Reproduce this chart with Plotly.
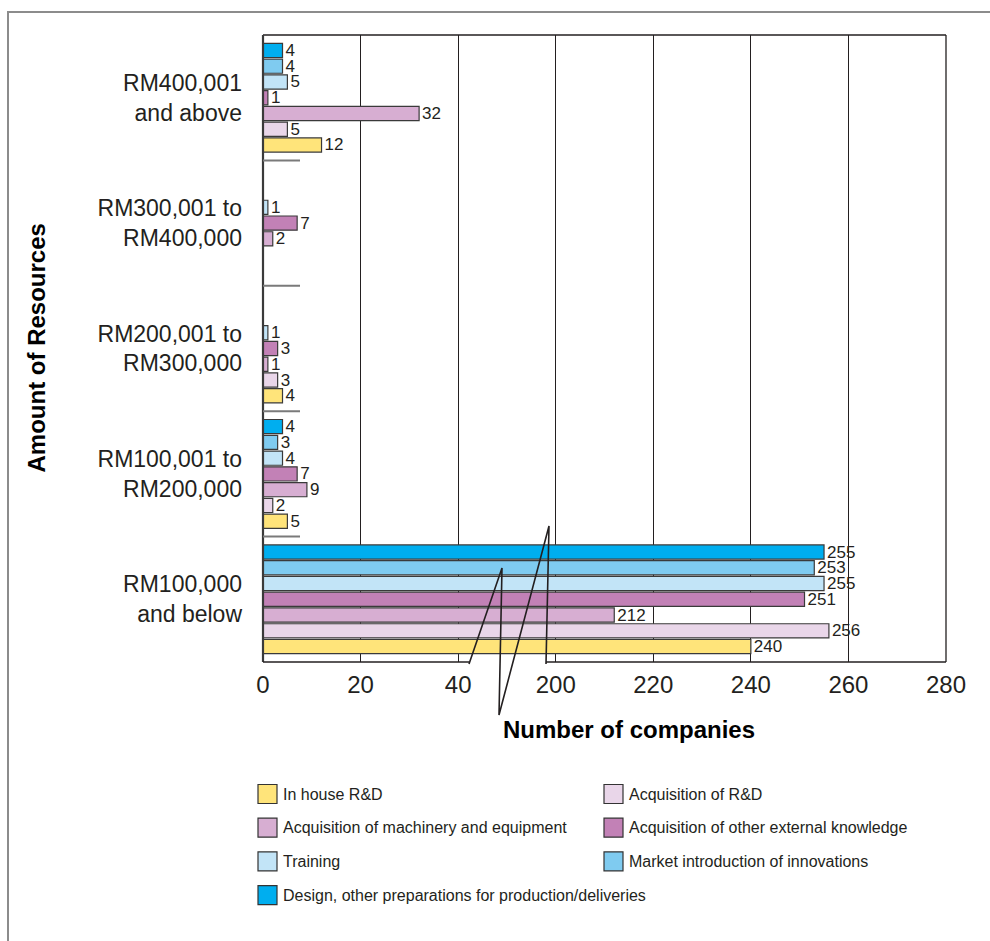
import plotly.graph_objects as go

# Resource bands, listed bottom-to-top as they appear on the axis
categories = [
    "RM100,000<br>and below",
    "RM100,001 to<br>RM200,000",
    "RM200,001 to<br>RM300,000",
    "RM300,001 to<br>RM400,000",
    "RM400,001<br>and above",
]

series_names = [
    "In house R&D",
    "Acquisition of R&D",
    "Acquisition of machinery and equipment",
    "Acquisition of other external knowledge",
    "Training",
    "Market introduction of innovations",
    "Design, other preparations for production/deliveries",
]

# Number of companies per resource band (same order as categories)
in_house_rd = [240, 5, 4, None, 12]
acquisition_rd = [256, 2, 3, None, 5]
machinery_equipment = [212, 9, 1, 2, 32]
other_external_knowledge = [251, 7, 3, 7, 1]
training = [255, 4, 1, 1, 5]
market_introduction = [253, 3, None, None, 4]
design_preparations = [255, 4, None, None, 4]

series_values = [
    in_house_rd,
    acquisition_rd,
    machinery_equipment,
    other_external_knowledge,
    training,
    market_introduction,
    design_preparations,
]

series_colors = [
    "#FFE47A",
    "#E9D6E9",
    "#D7AED2",
    "#C281B6",
    "#C2E4F7",
    "#7FCBF0",
    "#00AEEF",
]

tick_labels = [0, 20, 40, 200, 220, 240, 260, 280]

# Broken value axis: everything from 200 upward is shifted down by GAP
GAP = 140
AXIS_MAX = 280 - GAP


def axis_pos(v):
    if v is None:
        return None
    return v if v < 100 else v - GAP


FONT = "Liberation Sans, Arial, Helvetica, sans-serif"
INK = "#231F20"

# Plot-area placement in pixels
W, H = 990, 941
L, R, T, B = 263, 946, 35, 662


def px_x(px):
    return (px - L) / (R - L)


def px_y(py):
    return (B - py) / (B - T)


def unit_x(px):
    return (px - L) / (R - L) * AXIS_MAX


fig = go.Figure()

for name, vals, color in zip(series_names, series_values, series_colors):
    fig.add_trace(go.Bar(
        name=name,
        y=categories,
        x=[axis_pos(v) for v in vals],
        orientation="h",
        marker=dict(color=color, line=dict(color="#3a3a3a", width=1.2)),
        text=["" if v is None else str(v) for v in vals],
        textposition="outside",
        constraintext="none",
        cliponaxis=False,
        textfont=dict(family=FONT, size=17, color=INK),
        showlegend=False,
    ))

shapes = []

# Outer frame around the whole figure
shapes.append(dict(type="rect", xref="paper", yref="paper",
                   x0=px_x(8), x1=px_x(1010), y0=px_y(990), y1=px_y(12),
                   line=dict(color="#8c8c8c", width=2), layer="below"))

# Plot frame: top, right, left and the two halves of the bottom axis
line_style = dict(color=INK, width=1.3)
shapes += [
    dict(type="line", xref="paper", yref="paper", x0=0, x1=1, y0=1, y1=1, line=line_style),
    dict(type="line", xref="paper", yref="paper", x0=1, x1=1, y0=0, y1=1, line=line_style),
    dict(type="line", xref="paper", yref="paper", x0=0, x1=0, y0=0, y1=1,
         line=dict(color="#3a3a3a", width=2.2)),
    dict(type="line", xref="paper", yref="paper", x0=0, x1=px_x(469), y0=0, y1=0, line=line_style),
    dict(type="line", xref="paper", yref="paper", x0=px_x(546), x1=1, y0=0, y1=0, line=line_style),
]

# Short separators between resource bands
for k in range(len(categories) - 1):
    shapes.append(dict(type="line", xref="paper", yref="y",
                       x0=0, x1=px_x(300), y0=k + 0.5, y1=k + 0.5,
                       line=dict(color="#7a7a7a", width=2)))

# Axis-break zigzag
zig = [(469, 664), (502, 568), (499, 715), (549, 526), (546, 664)]
path = "M " + " L ".join(f"{unit_x(px):.3f},{px_y(py):.4f}" for px, py in zig)
shapes.append(dict(type="path", xref="x", yref="paper", path=path,
                   line=dict(color=INK, width=1.6), layer="above"))

annotations = [
    dict(text="<b>Amount of Resources</b>", xref="paper", yref="paper",
         x=px_x(36), y=0.5, xanchor="center", yanchor="middle",
         textangle=-90, showarrow=False,
         font=dict(family=FONT, size=24, color="#000000")),
    dict(text="<b>Number of companies</b>", xref="paper", yref="paper",
         x=px_x(629), y=px_y(729), xanchor="center", yanchor="middle",
         showarrow=False,
         font=dict(family=FONT, size=24, color="#000000")),
]

# Two-column legend drawn as swatches and labels
for i, (name, color) in enumerate(zip(series_names, series_colors)):
    col, row = i % 2, i // 2
    bx = 258 + col * 346
    cy = 794 + row * 33.7
    shapes.append(dict(type="rect", xref="paper", yref="paper",
                       x0=px_x(bx), x1=px_x(bx + 19),
                       y0=px_y(cy + 9.5), y1=px_y(cy - 9.5),
                       fillcolor=color, line=dict(color="#333333", width=1.2)))
    annotations.append(dict(text=name, xref="paper", yref="paper",
                            x=px_x(bx + 23), y=px_y(cy), xanchor="left",
                            yanchor="middle", showarrow=False,
                            font=dict(family=FONT, size=16, color=INK)))

fig.update_layout(
    width=W, height=H,
    margin=dict(l=L, r=W - R, t=T, b=H - B, pad=0),
    paper_bgcolor="white", plot_bgcolor="white",
    barmode="group", bargap=0.12, bargroupgap=0.1,
    shapes=shapes, annotations=annotations,
    font=dict(family=FONT, color=INK),
)

fig.update_xaxes(
    range=[0, AXIS_MAX],
    tickvals=[axis_pos(t) for t in tick_labels],
    ticktext=[str(t) for t in tick_labels],
    showgrid=True, gridcolor=INK, gridwidth=1,
    zeroline=False, showline=False, ticks="",
    tickfont=dict(family=FONT, size=24, color=INK),
    ticklabelstandoff=6,
)

fig.update_yaxes(
    categoryorder="array", categoryarray=categories,
    showgrid=False, zeroline=False, showline=False, ticks="",
    tickfont=dict(family=FONT, size=23, color=INK),
    ticklabelstandoff=20,
)

fig.write_html("out.html")
